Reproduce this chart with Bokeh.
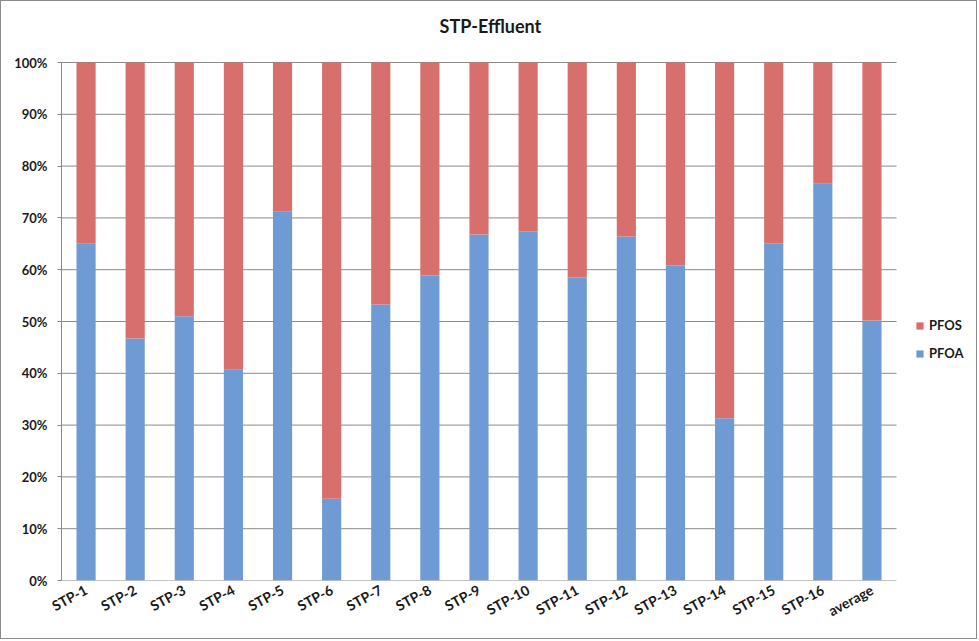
from bokeh.plotting import figure
from bokeh.models import Range1d, FixedTicker, NumeralTickFormatter, Legend, LegendItem, Label
from bokeh.embed import file_html
from bokeh.resources import INLINE

categories = ["STP-1", "STP-2", "STP-3", "STP-4", "STP-5", "STP-6", "STP-7", "STP-8",
              "STP-9", "STP-10", "STP-11", "STP-12", "STP-13", "STP-14", "STP-15", "STP-16",
              "average"]
pfoa = [0.650, 0.467, 0.510, 0.407, 0.712, 0.158, 0.533, 0.589,
        0.668, 0.674, 0.585, 0.664, 0.608, 0.313, 0.651, 0.766, 0.502]
pfos = [0.350, 0.533, 0.490, 0.593, 0.288, 0.842, 0.467, 0.411,
        0.332, 0.326, 0.415, 0.336, 0.392, 0.687, 0.349, 0.234, 0.498]
y_ticks = [0.0, 0.1, 0.2, 0.3, 0.4, 0.5, 0.6, 0.7, 0.8, 0.9, 1.0]
title_text = "STP-Effluent"

FONT = "Lato"
PFOA_COLOR = "#6F9BD4"
PFOS_COLOR = "#D7706D"
GRID = "#8a8a8a"

W, H = 977, 639
LEFT, BOTTOM = 60, 60
CAT_PX = 835   # pixels taken by the category axis
VAL_PX = 518   # pixels taken by 0..100 %
n = len(categories)
xs = [i + 0.5 for i in range(n)]
x_end = n * (W - LEFT) / CAT_PX
y_end = (H - BOTTOM) / VAL_PX

data = {"x": xs, "PFOA": pfoa, "PFOS": pfos}

p = figure(width=W, height=H, output_backend="svg", toolbar_location=None,
           x_range=Range1d(0, x_end), y_range=Range1d(0, y_end),
           min_border_left=LEFT, min_border_right=0, min_border_top=0,
           min_border_bottom=BOTTOM)
p.styles = {"border": "1px solid #8c8c8c"}

# horizontal gridlines spanning only the category area
p.segment(x0=[0] * len(y_ticks), x1=[n] * len(y_ticks), y0=y_ticks, y1=y_ticks,
          line_color=GRID, line_width=1)

rs = p.vbar_stack(["PFOA", "PFOS"], x="x", width=0.39, source=data,
                  color=[PFOA_COLOR, PFOS_COLOR], line_color=None)

p.add_layout(Label(x=n * 0.5137, y=1.0714, text=title_text, text_align="center",
                   text_baseline="middle", text_font=FONT, text_font_size="18px",
                   text_font_style="bold", text_color="#1a1a1a"))

p.outline_line_color = None
p.background_fill_color = "white"
p.border_fill_color = "white"
p.xgrid.grid_line_color = None
p.ygrid.grid_line_color = None

p.yaxis.ticker = FixedTicker(ticks=y_ticks)
p.yaxis.bounds = (0, 1)
p.yaxis.formatter = NumeralTickFormatter(format="0%")
p.yaxis.axis_line_color = GRID
p.yaxis.major_tick_line_color = GRID
p.yaxis.major_tick_out = 4
p.yaxis.major_tick_in = 0
p.yaxis.minor_tick_line_color = None
p.yaxis.major_label_standoff = 10

p.xaxis.ticker = FixedTicker(ticks=xs)
p.xaxis.major_label_overrides = {x: c for x, c in zip(xs, categories)}
p.xaxis.axis_line_color = None
p.xaxis.major_tick_line_color = None
p.xaxis.major_tick_out = 0
p.xaxis.minor_tick_line_color = None
p.xaxis.major_label_orientation = 0.5
p.xaxis.major_label_standoff = 8

for ax in (p.xaxis[0], p.yaxis[0]):
    ax.major_label_text_font = FONT
    ax.major_label_text_font_style = "bold"
    ax.major_label_text_color = "#1a1a1a"
p.yaxis.major_label_text_font_size = "13px"
p.xaxis.major_label_text_font_size = "14px"

legend = Legend(items=[LegendItem(label="PFOS", renderers=[rs[1]]),
                       LegendItem(label="PFOA", renderers=[rs[0]])],
                location=(854, 217), orientation="vertical",
                glyph_width=9, glyph_height=9, label_standoff=5,
                label_height=20, spacing=8, padding=0, margin=0,
                border_line_color=None, background_fill_alpha=0,
                label_text_font=FONT, label_text_font_size="13px",
                label_text_font_style="bold", label_text_color="#1a1a1a")
p.add_layout(legend, "center")

open("out.html", "w").write(file_html(p, INLINE))
